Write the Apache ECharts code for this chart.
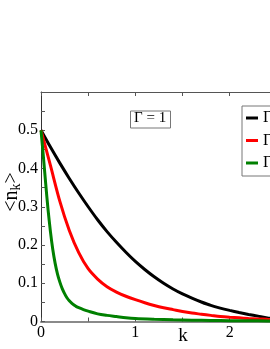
<!DOCTYPE html>
<html><head><meta charset="utf-8">
<script src="https://cdn.jsdelivr.net/npm/echarts@6/dist/echarts.min.js"></script>
<style>html,body{margin:0;padding:0;background:#fff}#c{width:270px;height:349px}</style>
</head><body><div id="c"></div>
<script>
var kValues = [0,0.1,0.2,0.3,0.4,0.5,0.6,0.7,0.8,0.9,1.0,1.1,1.2,1.3,1.4,1.5,1.6,1.7,1.8,1.9,2.0,2.1,2.2,2.3,2.4,2.5,2.6,2.7,2.8,2.9,3.0];
var blackValues = [0.5,0.456,0.414,0.374,0.336,0.300,0.266,0.235,0.207,0.181,0.157,0.136,0.117,0.100,0.085,0.072,0.061,0.051,0.042,0.035,0.029,0.0235,0.0185,0.014,0.0095,0.006,0.0035,0.002,0.001,0.0005,0.0002];
var redValues = [0.5,0.408,0.314,0.238,0.180,0.138,0.111,0.091,0.077,0.066,0.057,0.049,0.042,0.036,0.031,0.026,0.022,0.019,0.016,0.013,0.011,0.0095,0.008,0.0068,0.0057,0.0048,0.004,0.0033,0.0027,0.0022,0.0018];
var kGreen = [0,0.025,0.05,0.075,0.1,0.125,0.15,0.175,0.2,0.225,0.25,0.275,0.3,0.325,0.35,0.375,0.4,0.45,0.5,0.6,0.7,0.8,0.9,1.0,1.2,1.4,1.6,1.8,2.0,2.2,2.4,2.6,2.8,3.0];
var greenValues = [0.5,0.432,0.36,0.292,0.235,0.188,0.152,0.124,0.103,0.086,0.073,0.062,0.054,0.048,0.043,0.039,0.036,0.031,0.027,0.020,0.016,0.013,0.010,0.008,0.006,0.0045,0.0035,0.0028,0.0022,0.0018,0.0015,0.0012,0.001,0.0008];
var seriesNames = ['Γ\' = 1', 'Γ\' = 3', 'Γ\' = 10'];
var xTickLabels = ['0','1','2','3'];
var yTickLabels = ['0','0.1','0.2','0.3','0.4','0.5'];

function pairs(ks, ys){ return ks.map(function(k,i){ return [k, ys[i]]; }); }
var serif = 'Liberation Serif';
var chart = echarts.init(document.getElementById('c'));
chart.setOption({
  backgroundColor: '#fff',
  animation: false,
  grid: { left: 41, top: 92, width: 283, height: 229.5, outerBoundsMode: 'none', containLabel: false },
  xAxis: [{
    type: 'value', min: 0, max: 3, interval: 1, position: 'bottom',
    axisLine: { lineStyle: { color: '#8a8a8a', width: 2 } },
    axisTick: { inside: true, length: 4, lineStyle: { color: '#555' } },
    minorTick: { show: true, splitNumber: 2, length: 4, lineStyle: { color: '#555' } },
    splitLine: { show: false },
    axisLabel: { margin: 3, fontFamily: serif, fontSize: 16, color: '#000',
      formatter: function(v){ return xTickLabels[Math.round(v)]; } }
  }, {
    type: 'value', min: 0, max: 3, interval: 1, position: 'top',
    axisLine: { lineStyle: { color: '#555', width: 1 } },
    axisTick: { inside: true, length: 4, lineStyle: { color: '#555' } },
    minorTick: { show: true, splitNumber: 2, length: 4, lineStyle: { color: '#555' } },
    splitLine: { show: false },
    axisLabel: { show: false }
  }],
  yAxis: {
    type: 'value', min: 0, max: 0.6, interval: 0.1,
    axisLine: { show: true, lineStyle: { color: '#333', width: 1 } },
    axisTick: { inside: true, length: 4, lineStyle: { color: '#555' } },
    minorTick: { show: true, splitNumber: 2, length: 4, lineStyle: { color: '#555' } },
    splitLine: { show: false },
    axisLabel: { margin: 3, fontFamily: serif, fontSize: 16, color: '#000',
      formatter: function(v){ var i = Math.round(v*10); return i < yTickLabels.length ? yTickLabels[i] : ''; } }
  },
  legend: {
    left: 242, top: 106, orient: 'vertical',
    data: seriesNames,
    icon: 'rect', itemWidth: 12, itemHeight: 3, itemGap: 6.5,
    padding: [4, 8, 5, 4],
    borderColor: '#777', borderWidth: 1, backgroundColor: '#fff',
    textStyle: { fontFamily: serif, fontSize: 16, color: '#000' }
  },
  graphic: [
    { type: 'rect', left: 130, top: 110.5, shape: { width: 40, height: 17 },
      style: { fill: '#fff', stroke: '#777', lineWidth: 1 }, z: 100 },
    { type: 'text', left: 134, top: 111, z: 101,
      style: { text: 'Γ = 1', fontFamily: serif, fontSize: 15, fill: '#000' } },
    { type: 'text', x: 183, y: 336, z: 101,
      style: { text: 'k', fontFamily: serif, fontSize: 19, fill: '#000', align: 'center', verticalAlign: 'middle' } },
    { type: 'text', x: 12, y: 192, rotation: Math.PI/2, z: 101,
      style: { text: '<n{s|k}>', fontFamily: serif, fontSize: 20, fill: '#000',
        align: 'center', verticalAlign: 'middle',
        rich: { s: { fontFamily: serif, fontSize: 14, verticalAlign: 'bottom', padding: [8,0,0,0] } } } }
  ],
  series: [
    { name: seriesNames[0], type: 'line', data: pairs(kValues, blackValues), smooth: 0.3, symbol: 'none',
      lineStyle: { color: '#000', width: 3 }, itemStyle: { color: '#000' } },
    { name: seriesNames[1], type: 'line', data: pairs(kValues, redValues), smooth: 0.3, symbol: 'none',
      lineStyle: { color: '#ff0000', width: 3 }, itemStyle: { color: '#ff0000' } },
    { name: seriesNames[2], type: 'line', data: pairs(kGreen, greenValues), smooth: 0.3, symbol: 'none',
      lineStyle: { color: '#008000', width: 3 }, itemStyle: { color: '#008000' } }
  ]
});
</script></body></html>
